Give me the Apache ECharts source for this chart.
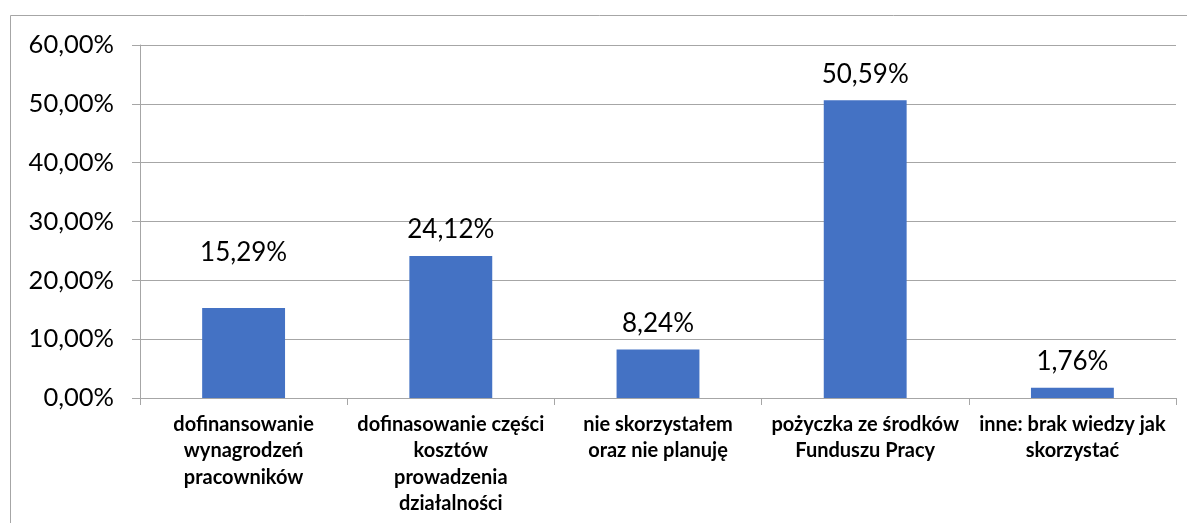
<!DOCTYPE html>
<html>
<head>
<meta charset="utf-8">
<script src="https://cdn.jsdelivr.net/npm/echarts@6/dist/echarts.min.js"></script>
<style>
  html, body { margin: 0; padding: 0; background: #fff; }
  #chart { width: 1187px; height: 523px; }
</style>
</head>
<body>
<div id="chart"></div>
<script>
// dane z wykresu
const categories = [
  'dofinansowanie\nwynagrodzeń\npracowników',
  'dofinasowanie części\nkosztów\nprowadzenia\ndziałalności',
  'nie skorzystałem\noraz nie planuję',
  'pożyczka ze środków\nFunduszu Pracy',
  'inne: brak wiedzy jak\nskorzystać'
];
const values = [15.29, 24.12, 8.24, 50.59, 1.76];
const yTicks = [0, 10, 20, 30, 40, 50, 60];

const fmt = v => v.toFixed(2).replace('.', ',') + '%';

const chart = echarts.init(document.getElementById('chart'));

const ops = {
  animation: false,
  textStyle: { fontFamily: 'Lato' },
  graphic: [{
    type: 'rect',
    shape: { x: 10.5, y: 15.5, width: 1200, height: 530 },
    style: { fill: 'none', stroke: '#a6a6a6', lineWidth: 1 },
    silent: true
  }],
  grid: { left: 140, right: 11, top: 45, bottom: 125, containLabel: false },
  xAxis: {
    type: 'category',
    data: categories,
    axisLine: { lineStyle: { color: '#a6a6a6' } },
    axisTick: { show: true, length: 7, lineStyle: { color: '#a6a6a6' } },
    axisLabel: {
      interval: 0,
      margin: 13,
      color: '#000',
      fontSize: 20,
      fontWeight: 'bold',
      fontFamily: 'Lato',
      lineHeight: 26.5,
      align: 'center'
    }
  },
  yAxis: {
    type: 'value',
    min: yTicks[0],
    max: yTicks[yTicks.length - 1],
    interval: 10,
    axisLine: { show: true, lineStyle: { color: '#a6a6a6' } },
    axisTick: { show: true, length: 8, lineStyle: { color: '#a6a6a6' } },
    splitLine: { lineStyle: { color: '#a6a6a6' } },
    axisLabel: {
      margin: 26,
      color: '#000',
      fontSize: 25.5,
      fontFamily: 'Lato',
      formatter: v => fmt(v)
    }
  },
  series: [{
    type: 'bar',
    data: values.map((v, i) => ({
      value: v,
      label: i === 0 ? { distance: 42 } : undefined
    })),
    barWidth: '40%',
    itemStyle: { color: '#4472c4' },
    label: {
      show: true,
      position: 'top',
      distance: 13,
      color: '#000',
      fontSize: 26,
      fontFamily: 'Lato',
      formatter: p => fmt(p.value)
    }
  }]
};

chart.setOption(ops);
</script>
</body>
</html>
